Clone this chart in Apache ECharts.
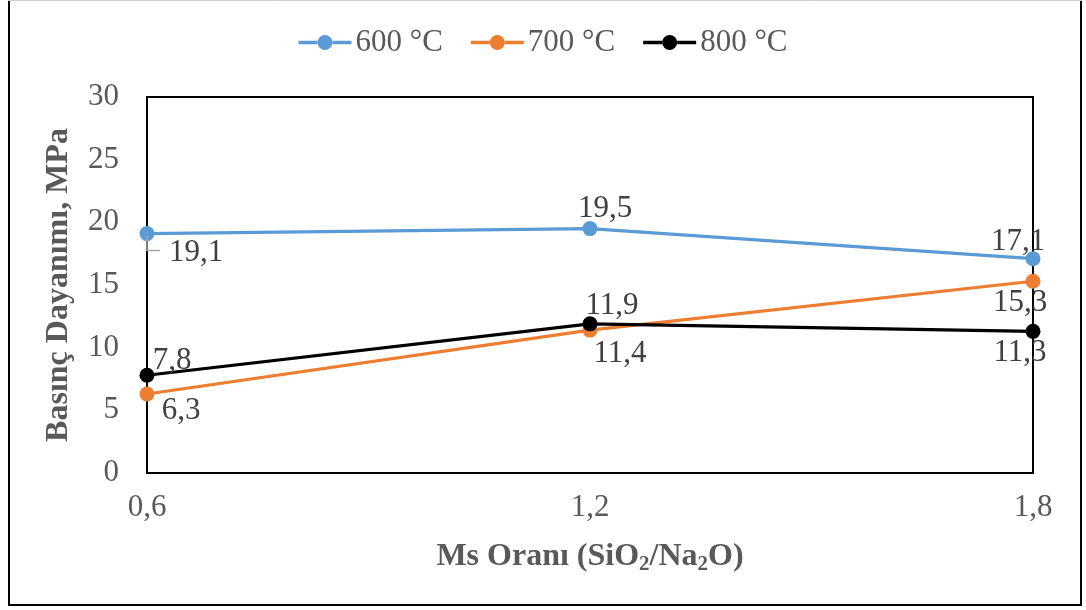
<!DOCTYPE html>
<html><head><meta charset="utf-8">
<script src="https://cdn.jsdelivr.net/npm/echarts@6/dist/echarts.min.js"></script>
<style>html,body{margin:0;padding:0;background:#fff}#c{width:1086px;height:610px}</style>
</head><body><div id="c"></div>
<script>
const categories = ['0,6', '1,2', '1,8'];
const seriesNames = ['600 °C', '700 °C', '800 °C'];
const s600 = [19.1, 19.5, 17.1];
const s700 = [6.3, 11.4, 15.3];
const s800 = [7.8, 11.9, 11.3];
const yTicks = [0, 5, 10, 15, 20, 25, 30];

const colors = ['#5b9bd5', '#ed7d31', '#000000'];
const FONT = 'Liberation Serif';
// label offsets (layout only)
const offsets = [
  [[49, 19], [15, -20], [-15, -17]],
  [[34, 17], [30, 24], [-13, 22]],
  [[25, -14], [22, -18], [-13, 21]]
];
const allData = [s600, s700, s800];

function mkSeries(i) {
  return {
    name: seriesNames[i],
    type: 'line',
    data: allData[i].map((v, j) => ({
      value: v,
      label: { offset: offsets[i][j] }
    })),
    color: colors[i],
    symbol: 'circle',
    symbolSize: 15,
    lineStyle: { width: 3.2, color: colors[i] },
    itemStyle: { color: colors[i] },
    z: 3 + (i === 2 ? 1 : 0),
    label: {
      show: true,
      position: 'inside',
      align: 'center',
      verticalAlign: 'middle',
      fontFamily: FONT,
      fontSize: 31,
      color: '#404040',
      formatter: p => String(p.value).replace('.', ',')
    },
    emphasis: { disabled: true },
    animation: false
  };
}

// legend icon drawn as rich text tokens (line - dot - line)
const legendRich = { t: { fontFamily: FONT, fontSize: 31, color: '#595959', padding: [0, 0, 0, 4] } };
colors.forEach((c, i) => {
  legendRich['l' + i] = { width: 19, height: 3.5, backgroundColor: c, lineHeight: 4 };
  legendRich['c' + i] = { width: 15, height: 15, borderRadius: 7.5, backgroundColor: c, lineHeight: 15 };
});

const chart = echarts.init(document.getElementById('c'), null, { renderer: 'canvas' });
chart.setOption({
  animation: false,
  backgroundColor: '#fff',
  legend: {
    top: 22,
    left: 'center',
    icon: 'none',
    itemWidth: 0,
    itemHeight: 13,
    itemGap: 28,
    textStyle: { fontFamily: FONT, fontSize: 31, color: '#595959', padding: [0, 0, 0, -5], rich: legendRich },
    formatter: name => {
      const i = seriesNames.indexOf(name);
      return `{l${i}| }{c${i}| }{l${i}| }{t|${name}}`;
    },
    data: seriesNames
  },
  grid: {
    left: 147, right: 53, top: 97, bottom: 137,
    show: true, borderColor: '#000', borderWidth: 2, backgroundColor: 'transparent'
  },
  xAxis: {
    type: 'category',
    data: categories,
    boundaryGap: false,
    axisLine: { show: true, lineStyle: { color: '#000', width: 2 } },
    axisTick: { show: false },
    axisLabel: { fontFamily: FONT, fontSize: 31, color: '#595959', margin: 19 },
    splitLine: { show: false },
    name: '{b|Ms Oranı (SiO}{s|2}{b|/Na}{s|2}{b|O)}',
    nameLocation: 'middle',
    nameGap: 66,
    nameTextStyle: {
      rich: {
        b: { fontFamily: FONT, fontSize: 32, fontWeight: 'bold', color: '#595959', lineHeight: 36, verticalAlign: 'middle' },
        s: { fontFamily: FONT, fontSize: 21, fontWeight: 'bold', color: '#595959', lineHeight: 36, verticalAlign: 'bottom', padding: [16, 0, 0, 0] }
      }
    }
  },
  yAxis: {
    type: 'value',
    min: yTicks[0],
    max: yTicks[yTicks.length - 1],
    interval: 5,
    axisLine: { show: true, lineStyle: { color: '#000', width: 2 } },
    axisTick: { show: false },
    splitLine: { show: false },
    axisLabel: { fontFamily: FONT, fontSize: 31, color: '#595959', margin: 28 },
    name: 'Basınç Dayanımı, MPa',
    nameLocation: 'middle',
    nameGap: 72,
    nameTextStyle: { fontFamily: FONT, fontSize: 32, fontWeight: 'bold', color: '#595959' }
  },
  series: [mkSeries(0), mkSeries(1), mkSeries(2)]
});

// leader line for the first 600 °C label, positioned via the chart's own scale
const p = chart.convertToPixel({ gridIndex: 0 }, [0, s600[0]]);
chart.setOption({
  graphic: [
    { type: 'polyline', shape: { points: [[p[0], p[1] + 2], [p[0], p[1] + 17], [p[0] + 13, p[1] + 17]] },
      style: { stroke: '#a6a6a6', lineWidth: 1.5, fill: null }, z: 10 },
    { type: 'line', shape: { x1: 9, y1: 0, x2: 9, y2: 606 }, style: { stroke: '#000', lineWidth: 2 } },
    { type: 'line', shape: { x1: 1081, y1: 0, x2: 1081, y2: 606 }, style: { stroke: '#000', lineWidth: 2 } },
    { type: 'line', shape: { x1: 8, y1: 605, x2: 1082, y2: 605 }, style: { stroke: '#000', lineWidth: 2 } },
    { type: 'line', shape: { x1: 8, y1: 0.5, x2: 1082, y2: 0.5 }, style: { stroke: '#d0d0d0', lineWidth: 1 } }
  ]
});
</script></body></html>
